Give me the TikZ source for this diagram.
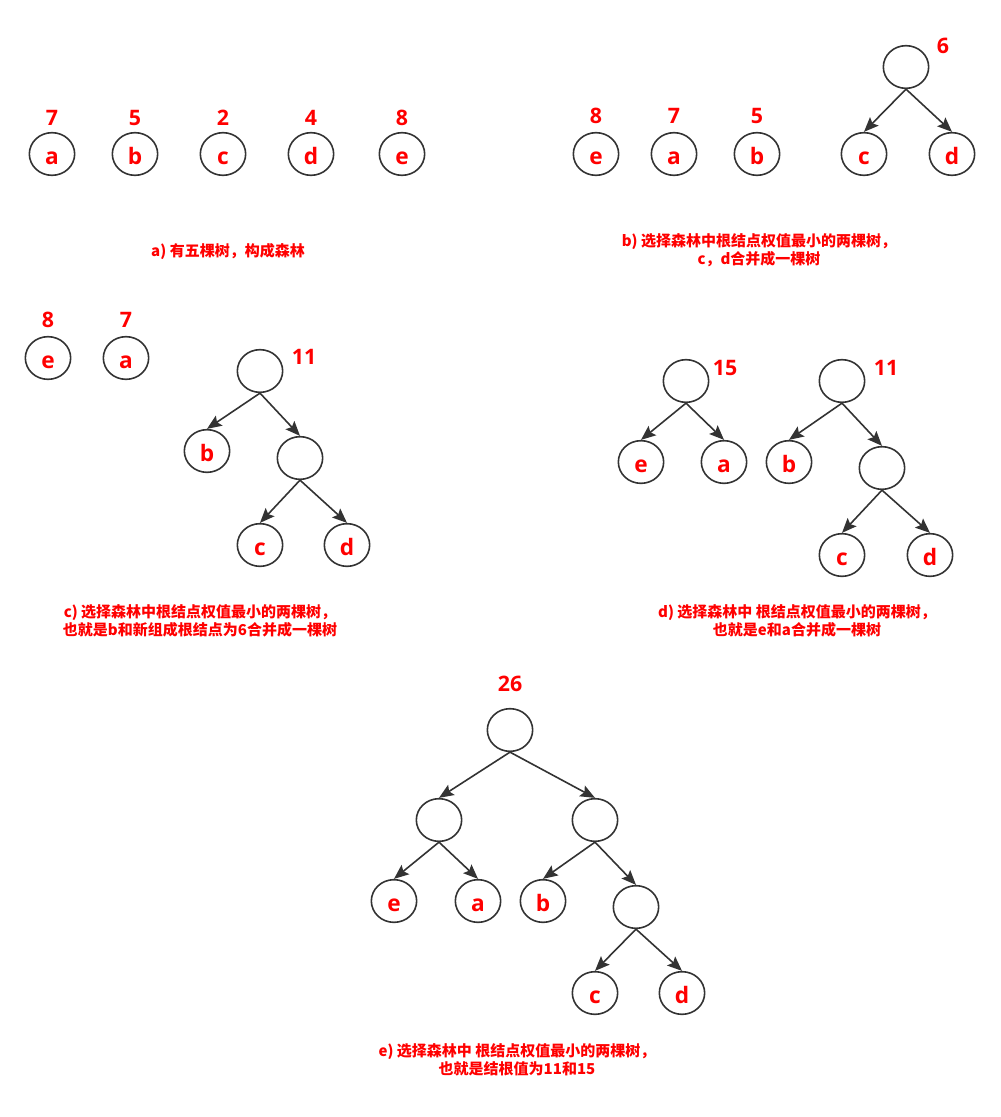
\documentclass[tikz,border=0pt]{standalone}
\usepackage{fontspec}
\setmainfont{Open Sans}
\newfontfamily\cjkfont{Noto Sans CJK SC}
\usetikzlibrary{arrows.meta,shapes.geometric}
\definecolor{linegray}{HTML}{333333}
\definecolor{weightred}{HTML}{FF0000}
\begin{document}
\begin{tikzpicture}[x=0.75pt, y=-0.75pt,
	tnode/.style={ellipse, draw=linegray, line width=1.2pt, minimum width=34pt, minimum height=32pt, inner sep=0pt,
		text=weightred, font=\fontsize{17}{17}\selectfont\bfseries, text height=15pt, text depth=0pt},
	weight/.style={text=weightred, font=\fontsize{16}{16}\selectfont\bfseries},
	caption/.style={text=weightred, font=\cjkfont\fontsize{11.25}{13.9}\selectfont\bfseries, align=center},
	edge/.style={draw=linegray, line width=1.2pt, -{Stealth[length=11pt, width=9pt, inset=2pt]}}]
		\useasboundingbox (0,0) rectangle (1000,1117);
		% a)
		\foreach \n/\x/\w in {a/52/7, b/135/5, c/223/2, d/311/4, e/402/8}{
		  \node[tnode] (pa\n) at (\x,154) {\n};
		  \node[weight] (wa\n) at (\x,118) {\w};
		}
		\node[caption] (capa) at (228,251) {a) 有五棵树，构成森林};
		% b)
		\foreach \n/\x/\w in {e/596/8, a/674/7, b/757/5}{
		  \node[tnode] (pb\n) at (\x,154) {\n};
		  \node[weight] (wb\n) at (\x,116) {\w};
		}
		\node[tnode] (pbr) at (906,67) {};
		\node[weight] (wbr) at (943,46) {6};
		\node[tnode] (pbc) at (864,154) {c};
		\node[tnode] (pbd) at (952,154) {d};
		\draw[edge] (pbr.south) -- (pbc.north);
		\draw[edge] (pbr.south) -- (pbd.north);
		\node[caption] (capb) at (759,250) {b) 选择森林中根结点权值最小的两棵树，\\c，d合并成一棵树};
		% c)
		\foreach \n/\x/\w in {e/48/8, a/126/7}{
		  \node[tnode] (pc\n) at (\x,358) {\n};
		  \node[weight] (wc\n) at (\x,320) {\w};
		}
		\node[tnode] (pcr) at (260,371) {};
		\node[weight] (wcr) at (304,357) {11};
		\node[tnode] (pcb) at (207,451) {b};
		\node[tnode] (pci) at (300,458) {};
		\node[tnode] (pcc) at (260,545) {c};
		\node[tnode] (pcd) at (347,545) {d};
		\draw[edge] (pcr.south) -- (pcb.north);
		\draw[edge] (pcr.south) -- (pci.north);
		\draw[edge] (pci.south) -- (pcc.north);
		\draw[edge] (pci.south) -- (pcd.north);
		\node[caption] (capc) at (200,621) {c) 选择森林中根结点权值最小的两棵树，\\也就是b和新组成根结点为6合并成一棵树};
		% d)
		\node[tnode] (pdr) at (686,381) {};
		\node[weight] (wdr) at (725,368) {15};
		\node[tnode] (pde) at (641,462) {e};
		\node[tnode] (pda) at (724,462) {a};
		\node[tnode] (pds) at (842,381) {};
		\node[weight] (wds) at (886,368) {11};
		\node[tnode] (pdb) at (789,462) {b};
		\node[tnode] (pdi) at (882,468) {};
		\node[tnode] (pdc) at (842,555) {c};
		\node[tnode] (pdd) at (930,555) {d};
		\draw[edge] (pdr.south) -- (pde.north);
		\draw[edge] (pdr.south) -- (pda.north);
		\draw[edge] (pds.south) -- (pdb.north);
		\draw[edge] (pds.south) -- (pdi.north);
		\draw[edge] (pdi.south) -- (pdc.north);
		\draw[edge] (pdi.south) -- (pdd.north);
		\node[caption] (capd) at (797,621) {d) 选择森林中 根结点权值最小的两棵树，\\也就是e和a合并成一棵树};
		% e)
		\node[tnode] (per) at (510,730) {};
		\node[weight] (wer) at (510,684) {26};
		\node[tnode] (pel) at (439,820) {};
		\node[tnode] (pes) at (595,820) {};
		\node[tnode] (pee) at (394,901) {e};
		\node[tnode] (pea) at (478,901) {a};
		\node[tnode] (peb) at (543,901) {b};
		\node[tnode] (pei) at (636,907) {};
		\node[tnode] (pec) at (595,993) {c};
		\node[tnode] (ped) at (682,993) {d};
		\draw[edge] (per.south) -- (pel.north);
		\draw[edge] (per.south) -- (pes.north);
		\draw[edge] (pel.south) -- (pee.north);
		\draw[edge] (pel.south) -- (pea.north);
		\draw[edge] (pes.south) -- (peb.north);
		\draw[edge] (pes.south) -- (pei.north);
		\draw[edge] (pei.south) -- (pec.north);
		\draw[edge] (pei.south) -- (ped.north);
		\node[caption] (cape) at (517,1060) {e) 选择森林中 根结点权值最小的两棵树，\\也就是结根值为11和15};
\end{tikzpicture}
\end{document}
